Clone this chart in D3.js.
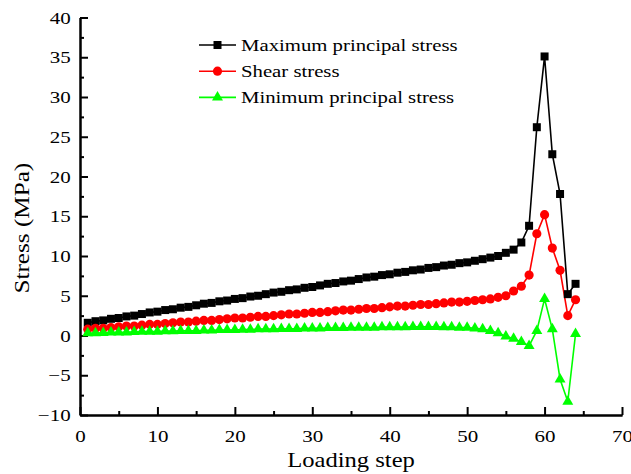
<!DOCTYPE html>
<html>
<head>
<meta charset="utf-8">
<script src="https://cdn.jsdelivr.net/npm/d3@7"></script>
<style>
  body { margin: 0; background: #fff; }
  svg text { font-family: 'Liberation Serif', 'Times New Roman', serif; }
</style>
</head>
<body>
<div id="wrapper"></div>
<script>
const steps = d3.range(1, 65);

const maxStress = [
  1.6, 1.8, 1.9, 2.1, 2.2, 2.4, 2.5, 2.7, 2.9, 3.0,
  3.2, 3.3, 3.5, 3.6, 3.8, 4.0, 4.1, 4.3, 4.4, 4.6,
  4.7, 4.9, 5.0, 5.2, 5.4, 5.5, 5.7, 5.8, 6.0, 6.1,
  6.3, 6.5, 6.6, 6.8, 6.9, 7.1, 7.3, 7.4, 7.6, 7.7,
  7.9, 8.0, 8.2, 8.3, 8.5, 8.6, 8.8, 8.9, 9.1, 9.2,
  9.4, 9.6, 9.8, 10.0, 10.4, 10.8, 11.7, 13.8, 26.2, 35.1,
  22.8, 17.8, 5.2, 6.5
];
const shearStress = [
  0.8, 0.9, 0.9, 1.0, 1.1, 1.2, 1.2, 1.3, 1.4, 1.4,
  1.5, 1.6, 1.7, 1.7, 1.8, 1.9, 1.9, 2.0, 2.1, 2.2,
  2.2, 2.3, 2.4, 2.4, 2.5, 2.6, 2.7, 2.7, 2.8, 2.9,
  2.9, 3.0, 3.1, 3.2, 3.2, 3.3, 3.4, 3.4, 3.5, 3.6,
  3.7, 3.7, 3.8, 3.9, 3.9, 4.0, 4.1, 4.2, 4.2, 4.3,
  4.4, 4.5, 4.6, 4.8, 5.0, 5.6, 6.2, 7.6, 12.8, 15.2,
  11.0, 8.2, 2.5, 4.5
];
const minStress = [
  0.3, 0.3, 0.35, 0.4, 0.4, 0.4, 0.45, 0.5, 0.5, 0.5,
  0.55, 0.55, 0.6, 0.6, 0.6, 0.65, 0.65, 0.7, 0.7, 0.7,
  0.75, 0.75, 0.8, 0.8, 0.8, 0.85, 0.85, 0.85, 0.9, 0.9,
  0.9, 0.95, 0.95, 0.95, 1.0, 1.0, 1.0, 1.0, 1.05, 1.05,
  1.05, 1.05, 1.1, 1.1, 1.1, 1.1, 1.05, 1.05, 1.0, 1.0,
  0.9, 0.8, 0.6, 0.3, -0.1, -0.4, -0.8, -1.3, 0.6, 4.6,
  0.8, -5.5, -8.3, 0.2
];

const seriesNames = ['Maximum principal stress', 'Shear stress', 'Minimum principal stress'];
const xTicks = [0, 10, 20, 30, 40, 50, 60, 70];
const yTicks = [-10, -5, 0, 5, 10, 15, 20, 25, 30, 35, 40];

// the original text is drawn a little wide, so stretch it horizontally
const stretch = 'scale(1.2, 1)';
const serif = "'Liberation Serif', 'Times New Roman', serif";

const width = 631;
const dimensions = {
  width,
  height: 474,
  margin: { top: 17.5, right: 9, bottom: 59, left: 80 },
};
dimensions.boundedWidth = dimensions.width - dimensions.margin.left - dimensions.margin.right;
dimensions.boundedHeight = dimensions.height - dimensions.margin.top - dimensions.margin.bottom;

const xScale = d3.scaleLinear().domain([0, 70]).range([0, dimensions.boundedWidth]);
const yScale = d3.scaleLinear().domain([-10, 40]).range([dimensions.boundedHeight, 0]);

const svg = d3.select('#wrapper')
  .append('svg')
  .attr('width', dimensions.width)
  .attr('height', dimensions.height);

const bounds = svg.append('g')
  .attr('transform', `translate(${dimensions.margin.left}, ${dimensions.margin.top})`);

// axes: minor ticks first, then major with labels
const xMinor = d3.range(5, 70, 10);
const yMinor = d3.range(-7.5, 40, 5);

bounds.append('g')
  .attr('transform', `translate(0, ${dimensions.boundedHeight})`)
  .call(d3.axisBottom(xScale).tickValues(xMinor).tickSize(-4).tickSizeOuter(0).tickFormat(''));
bounds.append('g')
  .call(d3.axisLeft(yScale).tickValues(yMinor).tickSize(-4).tickSizeOuter(0).tickFormat(''));

const xAxis = bounds.append('g')
  .attr('transform', `translate(0, ${dimensions.boundedHeight})`)
  .call(d3.axisBottom(xScale).tickValues(xTicks).tickSize(-8).tickSizeOuter(0).tickPadding(15).tickFormat(d3.format('d')));
const yAxis = bounds.append('g')
  .call(d3.axisLeft(yScale).tickValues(yTicks).tickSize(-8).tickSizeOuter(0).tickPadding(7.8).tickFormat(d3.format('d')));

bounds.selectAll('g')
  .attr('font-family', serif)
  .attr('font-size', 17.5);
bounds.selectAll('.domain, .tick line')
  .attr('stroke', '#000')
  .attr('stroke-width', 2);
bounds.selectAll('.tick text')
  .attr('fill', '#000')
  .attr('transform', stretch);

xAxis.append('g')
  .attr('transform', `translate(${dimensions.boundedWidth / 2}, 52)`)
  .append('text')
  .attr('transform', stretch)
  .attr('fill', '#000')
  .attr('text-anchor', 'middle')
  .attr('font-size', 20.5)
  .text('Loading step');

yAxis.append('g')
  .attr('transform', `rotate(-90) translate(${-yScale(13.5)}, -51.3)`)
  .append('text')
  .attr('transform', stretch)
  .attr('fill', '#000')
  .attr('text-anchor', 'middle')
  .attr('font-size', 21)
  .text('Stress (MPa)');

// series
const series = [
  { name: seriesNames[0], values: maxStress, color: '#000000', symbol: d3.symbolSquare, size: 64 },
  { name: seriesNames[1], values: shearStress, color: '#ff0000', symbol: d3.symbolCircle, size: 66 },
  { name: seriesNames[2], values: minStress, color: '#00ff00', symbol: d3.symbolTriangle, size: 52 },
];

const lineGenerator = d3.line()
  .x((d, i) => xScale(steps[i]))
  .y((d) => yScale(d));

series.forEach((s) => {
  bounds.append('path')
    .attr('d', lineGenerator(s.values))
    .attr('fill', 'none')
    .attr('stroke', s.color)
    .attr('stroke-width', 1.6);
});

series.forEach((s) => {
  bounds.append('g')
    .selectAll('path')
    .data(s.values)
    .join('path')
    .attr('transform', (d, i) => `translate(${xScale(steps[i])}, ${yScale(d)})`)
    .attr('d', d3.symbol(s.symbol, s.size))
    .attr('fill', s.color);
});

// legend
const legend = svg.append('g').attr('transform', 'translate(199, 45)');
series.forEach((s, i) => {
  const row = legend.append('g').attr('transform', `translate(0, ${i * 26.2})`);
  row.append('line')
    .attr('x1', 0).attr('x2', 37)
    .attr('stroke', s.color)
    .attr('stroke-width', 1.6);
  row.append('path')
    .attr('transform', 'translate(18.5, 0)')
    .attr('d', d3.symbol(s.symbol, s.size)())
    .attr('fill', s.color);
  row.append('g')
    .attr('transform', 'translate(42, 6)')
    .append('text')
    .attr('transform', stretch)
    .attr('fill', '#000')
    .attr('font-family', serif)
    .attr('font-size', 17.3)
    .text(s.name);
});
</script>
</body>
</html>
